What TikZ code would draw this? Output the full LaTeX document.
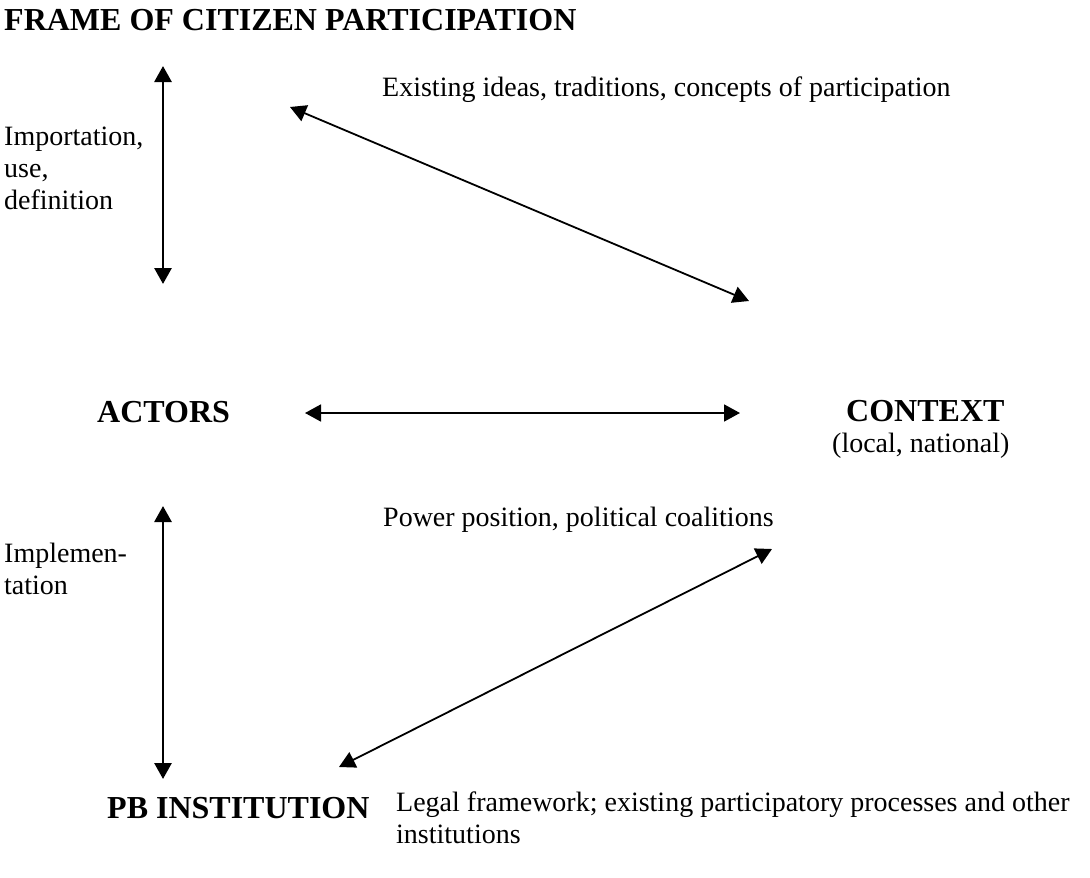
\documentclass[tikz,border=0pt]{standalone}
\usepackage{fontspec}
\setmainfont{Liberation Serif}
\usetikzlibrary{arrows.meta}
\begin{document}
\begin{tikzpicture}[x=1pt,y=-1pt,
  txt/.style={inner sep=0pt,anchor=west,font=\fontsize{28}{32}\selectfont,align=left},
  hd/.style={txt,font=\fontsize{32}{36}\selectfont\bfseries},
  dbl/.style={{Triangle[length=16pt,width=17pt]}-{Triangle[length=16pt,width=17pt]},line width=1.8pt},
  dblv/.style={{Triangle[length=16pt,width=17pt]}-{Triangle[length=16pt,width=17pt]},line width=2.8pt}]
\useasboundingbox (0,0) rectangle (1090,878);
\node[hd] (frame) at (4,20) {FRAME OF CITIZEN PARTICIPATION};
\node[txt] (exist) at (382,90) {Existing ideas, traditions, concepts of participation};
\node[txt] (import) at (4,168) {Importation,\\use,\\definition};
\node[hd] (actors) at (97,412) {ACTORS};
\node[hd] (context) at (846,411) {CONTEXT};
\node[txt] (localnat) at (832,446) {(local, national)};
\node[txt] (power) at (383,520) {Power position, political coalitions};
\node[txt] (implem) at (4,569) {Implemen-\\tation};
\node[hd] (pb) at (107,808) {PB INSTITUTION};
\node[txt,anchor=north west] (legal) at (396,792) {Legal framework; existing participatory processes and other\\institutions};
\coordinate (v1t) at (163,66);
\coordinate (v1b) at (163,284);
\coordinate (d1a) at (290,107);
\coordinate (d1b) at (749,301);
\coordinate (hl) at (305,413);
\coordinate (hr) at (740,413);
\coordinate (v2t) at (163,506);
\coordinate (v2b) at (163,779);
\coordinate (d2a) at (339,767);
\coordinate (d2b) at (772,549);
\draw[dblv] (v1t) -- (v1b);
\draw[dbl] (d1a) -- (d1b);
\draw[dbl] (hl) -- (hr);
\draw[dblv] (v2t) -- (v2b);
\draw[dbl] (d2a) -- (d2b);
\end{tikzpicture}
\end{document}
